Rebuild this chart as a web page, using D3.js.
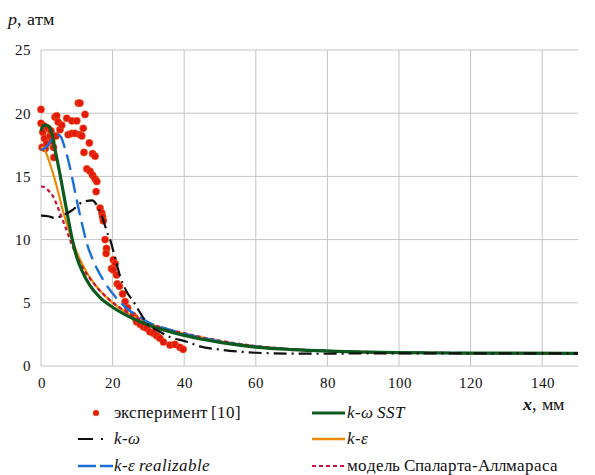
<!DOCTYPE html>
<html>
<head>
<meta charset="utf-8">
<script src="https://cdn.jsdelivr.net/npm/d3@7"></script>
<style>
  @font-face { font-family: "ChartSerif"; src: local("Liberation Serif"), local("LiberationSerif"); font-style: normal; font-weight: normal; }
  @font-face { font-family: "ChartSerif"; src: local("Liberation Serif Italic"), local("LiberationSerif-Italic"); font-style: italic; font-weight: normal; }
  @font-face { font-family: "ChartSerif"; src: local("Liberation Serif Bold Italic"), local("LiberationSerif-BoldItalic"); font-style: italic; font-weight: bold; }
</style>
</head>
<body style="margin:0">
<script>
// experiment [10]: [x mm, p atm]
var experiment = [[0,20.3],[0,19.2],[0.3,17.3],[0.5,18.5],[0.8,19.0],[1,18],[1.2,17.2],[1.6,17.6],[2,18.8],[2.5,18.2],
  [2.8,18.6],[3,17.8],[3.5,17.3],[3.6,16.5],[4.2,18.2],[3.9,19.7],[4.4,19.8],[4.8,19.3],[5.3,18.7],[5.8,19.05],[7.2,19.6],
  [8.6,19.4],[10,19.4],[10.4,20.8],[10.9,20.8],[12.3,19.9],[7.6,18.3],[8.6,18.4],[9.5,18.4],[10.9,18.3],[11.4,18.2],
  [11.8,18.8],[13.5,17.65],[12,16.9],[14.4,16.8],[15.1,16.6],[12.8,15.6],[13.7,15.4],[14.4,15.1],[15.1,14.8],[15.6,14.6],
  [15.4,13.8],[16.5,12.5],[17,12.1],[17.2,11.8],[17.4,11.5],[17.9,10.0],[18.3,9.3],[18.2,8.9],[20.2,8.4],[20.7,8.1],
  [19.7,7.7],[20.2,7.6],[21.1,7.2],[21.3,6.5],[21.9,6.3],[22.8,5.7],[23.5,5.1],[24.2,4.6],[25.6,4.0],[26.3,3.8],
  [26.7,3.5],[27.7,3.3],[28.6,3.1],[29.5,3.0],[30.4,2.7],[31.4,2.6],[32.3,2.4],[33.2,2.2],[34.2,1.9],[36,1.66],
  [37.4,1.71],[38.8,1.48],[39.7,1.32]];

var kwSST = [[0,18.6],[0.6,19.0],[1.3,19.05],[2.3,18.9],[3.2,18.2],[4,17.0],[4.8,15.9],[6,14.1],[7.3,12.1],[8.6,10.2],
  [10,8.6],[11.5,7.5],[13.7,6.35],[16.5,5.4],[20,4.65],[25,3.85],[30,3.25],[35,2.8],[40,2.42],[45,2.12],[50,1.87],
  [60,1.5],[70,1.3],[80,1.18],[90,1.1],[100,1.06],[120,1.02],[150,1.0]];

var kw = [[0,11.9],[2,11.85],[4,11.7],[6,11.9],[8.6,12.3],[11.8,13.0],[14.3,13.1],[16,12.5],[17.9,11.1],[18.3,10.7],
  [19.3,10.0],[21.1,8.1],[22.1,7.1],[23.9,5.9],[25.8,5.1],[28.6,3.8],[30,3.25],[32.3,2.85],[36,2.3],[40.7,1.92],
  [44.4,1.55],[50,1.3],[55,1.15],[60,1.05],[70,0.98],[80,0.97],[90,1.0],[100,1.0],[150,1.0]];

var ke = [[0,17.2],[0.6,17.3],[1.5,16.8],[2.5,16.0],[3.5,15.1],[4.4,14.2],[6.2,12.2],[8.1,10.5],[10,9.0],[12,7.8],
  [14,6.85],[17,5.8],[20,5.0],[25,4.05],[30,3.38],[35,2.9],[40,2.55],[45,2.25],[50,1.95],[60,1.55],[70,1.32],
  [80,1.2],[90,1.12],[100,1.07],[120,1.02],[150,1.0]];

var keRealizable = [[0,17.1],[1,17.2],[2.5,17.7],[3.8,18.2],[4.8,18.3],[5.6,18.1],[6.5,17.4],[7.6,16.3],[9,14.5],
  [10,13.1],[11.5,11.2],[12.8,9.7],[14.5,8.4],[17.4,6.8],[20.7,5.5],[24,4.55],[27.7,3.85],[30,3.45],[35,2.95],
  [40,2.55],[45,2.22],[50,1.95],[60,1.55],[70,1.32],[80,1.2],[90,1.12],[100,1.07],[120,1.02],[150,1.0]];

var spalart = [[0,14.2],[1,14.15],[2,13.9],[3.4,13.4],[5.3,12.1],[7.2,10.7],[8.6,9.6],[10,8.7],[12,7.6],[14,6.8],
  [17,5.8],[20,5.05],[25,4.08],[30,3.4],[35,2.95],[40,2.6],[45,2.28],[50,2.0],[60,1.58],[70,1.34],[80,1.2],
  [90,1.12],[100,1.07],[120,1.02],[150,1.0]];

var xTicks = [0, 20, 40, 60, 80, 100, 120, 140];
var yTicks = [0, 5, 10, 15, 20, 25];

var width = 595, height = 475;
var serif = "ChartSerif, 'Liberation Serif'";
var x = d3.scaleLinear().domain([0, 150]).range([41, 578]);
var y = d3.scaleLinear().domain([0, 25]).range([366, 50]);

var svg = d3.select("body").append("svg")
  .attr("width", width)
  .attr("height", height);

// grid
svg.append("g").selectAll("line").data(yTicks).enter().append("line")
  .attr("x1", x(0)).attr("x2", x(150))
  .attr("y1", function(d) { return y(d); }).attr("y2", function(d) { return y(d); })
  .attr("stroke", "#c4c4c4").attr("stroke-width", 1);
svg.append("g").selectAll("line").data(xTicks).enter().append("line")
  .attr("x1", function(d) { return x(d); }).attr("x2", function(d) { return x(d); })
  .attr("y1", y(0)).attr("y2", y(25))
  .attr("stroke", "#c4c4c4").attr("stroke-width", 1);

// axes: labels only, grid lines stand in for the axis lines
var xAxis = svg.append("g")
  .attr("transform", "translate(0," + y(0) + ")")
  .call(d3.axisBottom(x).tickValues(xTicks).tickSize(0).tickPadding(11));
var yAxis = svg.append("g")
  .attr("transform", "translate(" + x(0) + ",0)")
  .call(d3.axisLeft(y).tickValues(yTicks).tickSize(0).tickPadding(10));
[xAxis, yAxis].forEach(function(a) {
  a.select(".domain").remove();
  a.attr("font-size", 15).attr("font-family", serif);
  a.selectAll("text").attr("fill", "#111");
});

var line = d3.line()
  .x(function(d) { return x(d[0]); })
  .y(function(d) { return y(d[1]); })
  .curve(d3.curveMonotoneX);

var series = [
  { data: ke, color: "#f08a00", width: 2.2, dash: null },
  { data: spalart, color: "#c8123c", width: 2.2, dash: "4,3" },
  { data: keRealizable, color: "#1a6fd6", width: 2.4, dash: "16,7" },
  { data: kwSST, color: "#0d5a1e", width: 3.2, dash: null },
  { data: kw, color: "#111", width: 2.2, dash: "13,5,2,5" }
];

svg.append("g").selectAll("circle").data(experiment).enter().append("circle")
  .attr("cx", function(d) { return x(d[0]); })
  .attr("cy", function(d) { return y(d[1]); })
  .attr("r", 3.6)
  .attr("fill", "#e3190b")
  .attr("stroke", "#f0641a").attr("stroke-width", 0.5);

series.forEach(function(s) {
  svg.append("path")
    .datum(s.data)
    .attr("d", line)
    .attr("fill", "none")
    .attr("stroke", s.color)
    .attr("stroke-width", s.width)
    .attr("stroke-dasharray", s.dash);
});

// axis titles
var titles = [
  { x: 8, y: 25, main: "p", rest: ", атм", bold: false },
  { x: 523, y: 410, main: "x", rest: ", мм", bold: true }
];
var tt = svg.selectAll(".title").data(titles).enter().append("text")
  .attr("class", "title")
  .attr("x", function(d) { return d.x; })
  .attr("y", function(d) { return d.y; })
  .attr("font-size", 18)
  .attr("font-family", serif)
  .attr("fill", "#111");
tt.append("tspan").attr("font-style", "italic")
  .attr("font-weight", function(d) { return d.bold ? "bold" : "normal"; })
  .text(function(d) { return d.main; });
tt.append("tspan").text(function(d) { return d.rest; });

// legend
var legendItems = [
  { name: "эксперимент [10]", italic: false, col: 0, row: 0, dot: true },
  { name: "k-ω SST", italic: true, col: 1, row: 0, color: "#0d5a1e", width: 3.2, dash: null },
  { name: "k-ω", italic: true, col: 0, row: 1, color: "#111", width: 2.2, dash: "15,8,2,10" },
  { name: "k-ε", italic: true, col: 1, row: 1, color: "#f08a00", width: 2.4, dash: null },
  { name: "k-ε realizable", italic: true, col: 0, row: 2, color: "#1a6fd6", width: 2.4, dash: "18,4" },
  { name: "модель Спаларта-Аллмараса", italic: false, col: 1, row: 2, color: "#c8123c", width: 2.2, dash: "4,3" }
];
var colX = [78, 312], colW = [35, 33], rowY = [413, 439, 466];

legendItems.forEach(function(d) {
  var x0 = colX[d.col], yy = rowY[d.row];
  if (d.dot) {
    svg.append("circle").attr("cx", 96).attr("cy", yy).attr("r", 3)
      .attr("fill", "#e3190b").attr("stroke", "#f0641a").attr("stroke-width", 0.5);
  } else {
    svg.append("line").attr("x1", x0).attr("x2", x0 + colW[d.col]).attr("y1", yy).attr("y2", yy)
      .attr("stroke", d.color).attr("stroke-width", d.width).attr("stroke-dasharray", d.dash);
  }
});
svg.selectAll(".leg").data(legendItems).enter().append("text")
  .attr("class", "leg")
  .attr("x", function(d) { return d.col === 0 ? 114 : 347; })
  .attr("y", function(d) { return rowY[d.row] + 5; })
  .attr("font-size", 17)
  .attr("font-family", serif)
  .attr("fill", "#111")
  .attr("font-style", function(d) { return d.italic ? "italic" : "normal"; })
  .text(function(d) { return d.name; });
</script>
</body>
</html>
